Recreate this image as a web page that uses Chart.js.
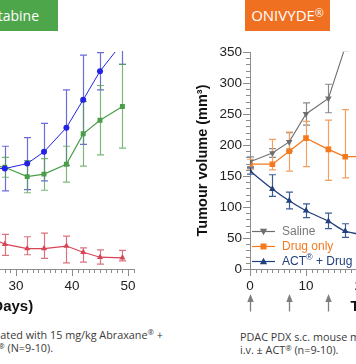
<!DOCTYPE html>
<html>
<head>
<meta charset="utf-8">
<script src="https://cdn.jsdelivr.net/npm/chart.js@4/dist/chart.umd.min.js"></script>
<style>
  html, body { margin: 0; padding: 0; background: #fff; }
  #wrap { position: relative; width: 356px; height: 364px; overflow: hidden; background: #fff; }
  canvas.cv { position: absolute; top: 0; }
  .box { position: absolute; top: 0; height: 31px; line-height: 31px; color: #fff;
         font-family: "Open Sans", sans-serif; font-size: 15px; white-space: nowrap; overflow: hidden; }
  .box span.r { position: absolute; top: 0; white-space: nowrap; }
  .sup { font-size: 0.72em; position: relative; top: -0.4em; }
  .cap { position: absolute; font-family: "Open Sans", sans-serif; font-size: 10.8px; line-height: 14px;
         color: #3a3a3a; white-space: nowrap; }
</style>
</head>
<body>
<div id="wrap">
  <canvas id="cLeft" class="cv" width="366" height="319" style="left:-212px;width:366px;height:319px"></canvas>
  <canvas id="cRight" class="cv" width="366" height="319" style="left:190px;width:366px;height:319px"></canvas>

  <div class="box" style="left:0;width:58px;background:#4ea64a;"><span class="r" style="right:19px;font-size:14px;">Abraxane® + Gemcitabine</span></div>
  <div class="box" style="left:245px;width:85px;background:#f07021;text-align:center;">ONIVYDE<span class="sup">®</span></div>

  <div class="cap" style="right:193px;top:327.5px;">PDAC PDX s.c. mouse model treated with 15 mg/kg Abraxane<span class="sup">®</span> +</div>
  <div class="cap" style="right:303px;top:341px;">Gemcitabine i.v. ± ACT<span class="sup">®</span> (N=9-10).</div>
  <div class="cap" style="left:240px;top:329.7px;">PDAC PDX s.c. mouse model treated with ONIVYDE<span class="sup">®</span></div>
  <div class="cap" style="left:240px;top:343px;">i.v. ± ACT<span class="sup">®</span> (n=9-10).</div>
</div>

<script>
// ---------- Axis ticks ----------
const xTickValues = [0, 10, 20, 30, 40, 50];
const yTickValues = [0, 50, 100, 150, 200, 250, 300, 350];

// ---------- Left panel (Abraxane + Gemcitabine arm), tumour volume mm3 ----------
const leftDays      = [25, 28, 32, 35, 39, 42, 45, 49];
const leftBlue      = [162, 162, 170, 189, 228, 273, 319, 365];
const leftBlueHi    = [195, 198, 212, 235, 289, 345, 349, 400];
const leftBlueLo    = [130, 126, 128, 142, 167, 201, 289, 330];
const leftGreen     = [168, 164, 149, 153, 169, 218, 240, 262];
const leftGreenHi   = [195, 180, 175, 178, 198, 270, 296, 330];
const leftGreenLo   = [140, 148, 123, 127, 140, 166, 184, 195];
const leftRed       = [53, 40, 33, 33, 37, 27, 19, 18];
const leftRedHi     = [70, 56, 52, 58, 53, 34, 31, 30];
const leftRedLo     = [35, 22, 23, 17, 10, 11, 8, 13];

// ---------- Right panel (ONIVYDE arm) ----------
const rightDays     = [0, 4, 7, 10, 14, 17, 21];
const saline        = [173, 187, 205, 250, 275, 358, null];
const salineHi      = [181, 194, 220, 268, 298, 372, null];
const salineLo      = [165, 180, 190, 232, 252, 352, null];
const drugOnly      = [169, 169, 190, 211, 193, 181, 182];
const drugOnlyHi    = [177, 209, 221, 238, 240, 257, 260];
const drugOnlyLo    = [161, 160, 158, 165, 143, 147, 105];
const actDrug       = [158, 129, 110, 94, 77, 61, 54];
const actDrugHi     = [163, 152, 124, 105, 90, 73, 64];
const actDrugLo     = [153, 117, 97, 83, 65, 51, 44];
const dosingDays    = [0, 7, 14];
const legendLabels  = ['Saline', 'Drug only', 'ACT® + Drug'];

// ---------- Styling ----------
const AXIS = '#8c8c8c';
const TICKCOL = '#222';
const FONT = 'Liberation Sans';

function pts(days, vals) { return days.map((d, i) => ({ x: d, y: vals[i] })); }

function drawMarker(ctx, style, x, y, r, color) {
  ctx.save();
  ctx.fillStyle = color;
  ctx.beginPath();
  if (style === 'square') {
    ctx.rect(x - r, y - r, 2 * r, 2 * r);
  } else if (style === 'triUp') {
    ctx.moveTo(x, y - r); ctx.lineTo(x + r * 0.95, y + r * 0.7); ctx.lineTo(x - r * 0.95, y + r * 0.7); ctx.closePath();
  } else if (style === 'triDown') {
    ctx.moveTo(x, y + r); ctx.lineTo(x + r * 0.95, y - r * 0.7); ctx.lineTo(x - r * 0.95, y - r * 0.7); ctx.closePath();
  }
  ctx.fill();
  ctx.restore();
}

const errorBarPlugin = {
  id: 'errbars',
  beforeDatasetsDraw(chart) {
    const ctx = chart.ctx, xs = chart.scales.x, ys = chart.scales.y, a = chart.chartArea;
    ctx.save();
    ctx.beginPath(); ctx.rect(a.left - 4, a.top - 1, a.right - a.left + 8, a.bottom - a.top + 2); ctx.clip();
    chart.data.datasets.forEach(ds => {
      if (!ds.err) return;
      ctx.strokeStyle = ds.err.color; ctx.lineWidth = 1.2;
      ds.data.forEach((p, i) => {
        const lo = ds.err.lo[i], hi = ds.err.hi[i];
        if (p.y == null || lo == null || hi == null) return;
        const x = Math.round(xs.getPixelForValue(p.x)) + 0.5;
        const yl = ys.getPixelForValue(lo), yh = ys.getPixelForValue(hi);
        ctx.beginPath();
        ctx.moveTo(x, yl); ctx.lineTo(x, yh);
        ctx.moveTo(x - 3.5, yl); ctx.lineTo(x + 3.5, yl);
        ctx.moveTo(x - 3.5, yh); ctx.lineTo(x + 3.5, yh);
        ctx.stroke();
      });
    });
    ctx.restore();
  }
};

const decorPlugin = {
  id: 'decor',
  afterDraw(chart, args, opts) {
    const ctx = chart.ctx, xs = chart.scales.x, ys = chart.scales.y, a = chart.chartArea;
    ctx.save();
    ctx.strokeStyle = AXIS; ctx.lineWidth = 1;
    // minor x ticks (every day)
    for (let d = Math.ceil(xs.min); d <= xs.max; d++) {
      if (d % 10 === 0) continue;
      const px = Math.round(xs.getPixelForValue(d)) + 0.5;
      ctx.beginPath(); ctx.moveTo(px, a.bottom); ctx.lineTo(px, a.bottom + 4); ctx.stroke();
    }
    // minor y ticks (every 10)
    for (let v = 0; v <= ys.max; v += 10) {
      if (v % 50 === 0) continue;
      const py = Math.round(ys.getPixelForValue(v)) + 0.5;
      ctx.beginPath(); ctx.moveTo(a.left, py); ctx.lineTo(a.left - 4, py); ctx.stroke();
    }
    // dosing arrows
    if (opts.arrows) {
      ctx.fillStyle = '#7d7d7d'; ctx.strokeStyle = '#7d7d7d'; ctx.lineWidth = 1.3;
      opts.arrows.forEach(d => {
        const px = Math.round(xs.getPixelForValue(d)) + 0.5;
        ctx.beginPath(); ctx.moveTo(px, 301); ctx.lineTo(px, 311.5); ctx.stroke();
        ctx.beginPath(); ctx.moveTo(px, 294); ctx.lineTo(px + 3.2, 302); ctx.lineTo(px - 3.2, 302); ctx.closePath(); ctx.fill();
      });
    }
    // legend
    if (opts.legend) {
      const rows = [-38, -23, -8];
      const dsets = chart.data.datasets;
      opts.legend.forEach((lab, i) => {
        const ds = dsets[i];
        const y = a.bottom + rows[i];
        const x0 = a.left + 2, x1 = a.left + 25;
        ctx.strokeStyle = ds.borderColor; ctx.lineWidth = 1.2;
        ctx.beginPath(); ctx.moveTo(x0, y + 0.5); ctx.lineTo(x1, y + 0.5); ctx.stroke();
        drawMarker(ctx, ds.legendMarker, (x0 + x1) / 2, y + 0.5, ds.legendMarker === 'square' ? 3 : 3.8, ds.borderColor);
        ctx.fillStyle = ds.legendText;
        ctx.textBaseline = 'middle';
        ctx.textAlign = 'left';
        let tx = a.left + 32;
        const parts = lab.split('®');
        ctx.font = '12px "' + FONT + '"';
        ctx.fillText(parts[0], tx, y + 1);
        if (parts.length > 1) {
          tx += ctx.measureText(parts[0]).width;
          ctx.font = '9px "' + FONT + '"';
          ctx.fillText('®', tx, y - 3);
          tx += ctx.measureText('®').width;
          ctx.font = '12px "' + FONT + '"';
          ctx.fillText(parts[1], tx, y + 1);
        }
      });
    }
    ctx.restore();
  }
};

function makeOptions(decor) {
  return {
    responsive: false,
    animation: false,
    devicePixelRatio: 1,
    layout: { padding: { top: 52, right: 20.4, left: 0, bottom: 0 } },
    plugins: { legend: { display: false }, tooltip: { enabled: false }, decor: decor },
    elements: { line: { fill: false } },
    scales: {
      x: {
        type: 'linear', min: 0, max: 51,
        afterBuildTicks: s => { s.ticks = xTickValues.map(v => ({ value: v })); },
        afterFit: s => { s.height = 50; },
        grid: { drawOnChartArea: false, drawTicks: true, tickLength: 7, tickColor: AXIS, tickWidth: 1, color: AXIS },
        border: { display: true, color: AXIS, width: 1 },
        ticks: { font: { family: FONT, size: 13.5 }, color: TICKCOL, padding: 2, maxRotation: 0, autoSkip: false },
        title: { display: true, text: 'Time (Days)', color: '#111',
                 font: { family: FONT, size: 15, weight: 'bold' }, padding: { top: 0, bottom: 3 } }
      },
      y: {
        type: 'linear', min: 0, max: 350,
        afterBuildTicks: s => { s.ticks = yTickValues.map(v => ({ value: v })); },
        afterFit: s => { s.width = 60; },
        grid: { drawOnChartArea: false, drawTicks: true, tickLength: 7, tickColor: AXIS, tickWidth: 1, color: AXIS },
        border: { display: true, color: AXIS, width: 1 },
        ticks: { font: { family: FONT, size: 13.5 }, color: TICKCOL, padding: 1 },
        title: { display: true, text: 'Tumour volume (mm³)', color: '#111',
                 font: { family: FONT, size: 14.5, weight: 'bold' }, padding: { top: 4, bottom: 0 } }
      }
    }
  };
}

new Chart(document.getElementById('cLeft'), {
  type: 'line',
  data: {
    datasets: [
      { label: 'Group A', data: pts(leftDays, leftBlue), borderColor: '#2323e6', backgroundColor: '#2323e6',
        borderWidth: 1, pointStyle: 'circle', pointRadius: 3, pointBorderWidth: 0, tension: 0,
        err: { lo: leftBlueLo, hi: leftBlueHi, color: 'rgba(45,45,200,0.7)' } },
      { label: 'Group B', data: pts(leftDays, leftGreen), borderColor: '#4a9e48', backgroundColor: '#4a9e48',
        borderWidth: 1.2, pointStyle: 'rect', pointRadius: 3.5, pointBorderWidth: 0, tension: 0,
        err: { lo: leftGreenLo, hi: leftGreenHi, color: 'rgba(80,160,78,0.75)' } },
      { label: 'Group C', data: pts(leftDays, leftRed), borderColor: '#d64456', backgroundColor: '#d64456',
        borderWidth: 1.2, pointStyle: 'triangle', pointRadius: 3.5, pointBorderWidth: 0, tension: 0,
        err: { lo: leftRedLo, hi: leftRedHi, color: 'rgba(210,80,95,0.8)' } }
    ]
  },
  options: makeOptions({}),
  plugins: [errorBarPlugin, decorPlugin]
});

new Chart(document.getElementById('cRight'), {
  type: 'line',
  data: {
    datasets: [
      { label: legendLabels[0], data: pts(rightDays, saline), borderColor: '#6d6e71', backgroundColor: '#6d6e71',
        borderWidth: 1.1, pointStyle: 'triangle', rotation: 180, pointRotation: 180, pointRadius: 3.8, pointBorderWidth: 0,
        tension: 0, legendMarker: 'triDown', legendText: '#77787b',
        err: { lo: salineLo, hi: salineHi, color: '#8a8a8a' } },
      { label: legendLabels[1], data: pts(rightDays, drugOnly), borderColor: '#f47a20', backgroundColor: '#f47a20',
        borderWidth: 1.3, pointStyle: 'rect', pointRadius: 4, pointBorderWidth: 0,
        tension: 0, legendMarker: 'square', legendText: '#f47a20',
        err: { lo: drugOnlyLo, hi: drugOnlyHi, color: '#f5a060' } },
      { label: legendLabels[2], data: pts(rightDays, actDrug), borderColor: '#22407e', backgroundColor: '#22407e',
        borderWidth: 1.3, pointStyle: 'triangle', pointRadius: 3.8, pointBorderWidth: 0,
        tension: 0.3, legendMarker: 'triUp', legendText: '#22407e',
        err: { lo: actDrugLo, hi: actDrugHi, color: '#3d5c96' } }
    ]
  },
  options: makeOptions({ arrows: dosingDays, legend: legendLabels }),
  plugins: [errorBarPlugin, decorPlugin]
});
</script>
</body>
</html>
